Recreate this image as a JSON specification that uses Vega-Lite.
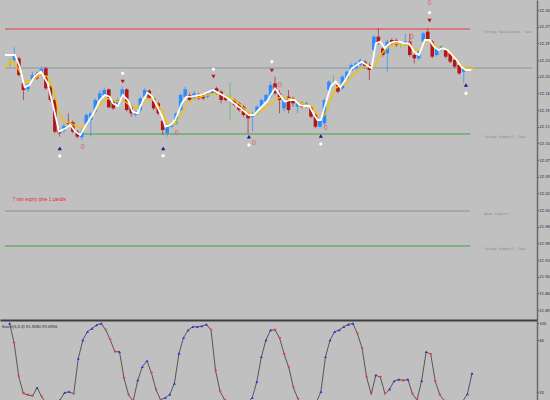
{
  "$schema": "https://vega.github.io/schema/vega-lite/v6.json",
  "background": "#c0c0c0",
  "padding": 0,
  "spacing": 0,
  "config": {"view": {"stroke": null}},
  "datasets": {
    "candles": [
      {"i":0,"o":22.2215,"c":22.2215,"h":22.2275,"l":22.2150},
      {"i":1,"o":22.2250,"c":22.2325,"h":22.2450,"l":22.2225},
      {"i":2,"o":22.2275,"c":22.2025,"h":22.2300,"l":22.2000},
      {"i":3,"o":22.1900,"c":22.1800,"h":22.1925,"l":22.1650},
      {"i":4,"o":22.1810,"c":22.1860,"h":22.1900,"l":22.1775},
      {"i":5,"o":22.1950,"c":22.2025,"h":22.2075,"l":22.1925},
      {"i":6,"o":22.2040,"c":22.1975,"h":22.2075,"l":22.1950},
      {"i":7,"o":22.2040,"c":22.2115,"h":22.2150,"l":22.2010},
      {"i":8,"o":22.2125,"c":22.1825,"h":22.2150,"l":22.1800},
      {"i":9,"o":22.1850,"c":22.1650,"h":22.1875,"l":22.1625},
      {"i":10,"o":22.1650,"c":22.1175,"h":22.1675,"l":22.1150},
      {"i":11,"o":22.1200,"c":22.1150,"h":22.1225,"l":22.1100},
      {"i":12,"o":22.1190,"c":22.1260,"h":22.1300,"l":22.1150},
      {"i":13,"o":22.1315,"c":22.1290,"h":22.1450,"l":22.1250},
      {"i":14,"o":22.1315,"c":22.1175,"h":22.1340,"l":22.1150},
      {"i":15,"o":22.1175,"c":22.1100,"h":22.1200,"l":22.1075},
      {"i":16,"o":22.1090,"c":22.1175,"h":22.1225,"l":22.1050},
      {"i":17,"o":22.1275,"c":22.1425,"h":22.1450,"l":22.1250},
      {"i":18,"o":22.1350,"c":22.1450,"h":22.1475,"l":22.1100},
      {"i":19,"o":22.1475,"c":22.1650,"h":22.1675,"l":22.1450},
      {"i":20,"o":22.1650,"c":22.1750,"h":22.1800,"l":22.1625},
      {"i":21,"o":22.1725,"c":22.1800,"h":22.1840,"l":22.1700},
      {"i":22,"o":22.1810,"c":22.1540,"h":22.1825,"l":22.1525},
      {"i":23,"o":22.1625,"c":22.1525,"h":22.1650,"l":22.1500},
      {"i":24,"o":22.1575,"c":22.1650,"h":22.1675,"l":22.1550},
      {"i":25,"o":22.1700,"c":22.1810,"h":22.1850,"l":22.1675},
      {"i":26,"o":22.1810,"c":22.1500,"h":22.1825,"l":22.1475},
      {"i":27,"o":22.1550,"c":22.1450,"h":22.1575,"l":22.1400},
      {"i":28,"o":22.1425,"c":22.1475,"h":22.1500,"l":22.1400},
      {"i":29,"o":22.1500,"c":22.1675,"h":22.1700,"l":22.1475},
      {"i":30,"o":22.1700,"c":22.1800,"h":22.1825,"l":22.1675},
      {"i":31,"o":22.1790,"c":22.1675,"h":22.1810,"l":22.1650},
      {"i":32,"o":22.1675,"c":22.1525,"h":22.1700,"l":22.1500},
      {"i":33,"o":22.1600,"c":22.1450,"h":22.1625,"l":22.1425},
      {"i":34,"o":22.1340,"c":22.1200,"h":22.1375,"l":22.1125},
      {"i":35,"o":22.1150,"c":22.1250,"h":22.1290,"l":22.1100},
      {"i":36,"o":22.1250,"c":22.1300,"h":22.1325,"l":22.1225},
      {"i":37,"o":22.1300,"c":22.1450,"h":22.1475,"l":22.1275},
      {"i":38,"o":22.1500,"c":22.1725,"h":22.1750,"l":22.1475},
      {"i":39,"o":22.1700,"c":22.1810,"h":22.1850,"l":22.1675},
      {"i":40,"o":22.1725,"c":22.1650,"h":22.1760,"l":22.1625},
      {"i":41,"o":22.1675,"c":22.1750,"h":22.1790,"l":22.1650},
      {"i":42,"o":22.1725,"c":22.1675,"h":22.1760,"l":22.1650},
      {"i":43,"o":22.1725,"c":22.1675,"h":22.1750,"l":22.1650},
      {"i":44,"o":22.1700,"c":22.1750,"h":22.1775,"l":22.1675},
      {"i":45,"o":22.1750,"c":22.1800,"h":22.1825,"l":22.1725},
      {"i":46,"o":22.1825,"c":22.1750,"h":22.1850,"l":22.1725},
      {"i":47,"o":22.1775,"c":22.1650,"h":22.1800,"l":22.1600},
      {"i":48,"o":22.1700,"c":22.1650,"h":22.1725,"l":22.1625},
      {"i":49,"o":22.1650,"c":22.1650,"h":22.1910,"l":22.1350},
      {"i":50,"o":22.1650,"c":22.1575,"h":22.1675,"l":22.1550},
      {"i":51,"o":22.1600,"c":22.1500,"h":22.1625,"l":22.1475},
      {"i":52,"o":22.1550,"c":22.1425,"h":22.1575,"l":22.1400},
      {"i":53,"o":22.1450,"c":22.1375,"h":22.1475,"l":22.1150},
      {"i":54,"o":22.1400,"c":22.1450,"h":22.1475,"l":22.1175},
      {"i":55,"o":22.1450,"c":22.1550,"h":22.1575,"l":22.1425},
      {"i":56,"o":22.1550,"c":22.1650,"h":22.1675,"l":22.1525},
      {"i":57,"o":22.1625,"c":22.1725,"h":22.1750,"l":22.1600},
      {"i":58,"o":22.1700,"c":22.1875,"h":22.1925,"l":22.1675},
      {"i":59,"o":22.1900,"c":22.1750,"h":22.2000,"l":22.1725},
      {"i":60,"o":22.1750,"c":22.1650,"h":22.1800,"l":22.1450},
      {"i":61,"o":22.1525,"c":22.1650,"h":22.1675,"l":22.1475},
      {"i":62,"o":22.1700,"c":22.1500,"h":22.1800,"l":22.1450},
      {"i":63,"o":22.1675,"c":22.1600,"h":22.1700,"l":22.1550},
      {"i":64,"o":22.1550,"c":22.1625,"h":22.1650,"l":22.1450},
      {"i":65,"o":22.1600,"c":22.1550,"h":22.1625,"l":22.1525},
      {"i":66,"o":22.1550,"c":22.1600,"h":22.1625,"l":22.1525},
      {"i":67,"o":22.1550,"c":22.1400,"h":22.1575,"l":22.1375},
      {"i":68,"o":22.1425,"c":22.1250,"h":22.1450,"l":22.1225},
      {"i":69,"o":22.1250,"c":22.1350,"h":22.1375,"l":22.1225},
      {"i":70,"o":22.1300,"c":22.1650,"h":22.1675,"l":22.1275},
      {"i":71,"o":22.1800,"c":22.1925,"h":22.1950,"l":22.1775},
      {"i":72,"o":22.1900,"c":22.1900,"h":22.2025,"l":22.1875},
      {"i":73,"o":22.1875,"c":22.1775,"h":22.1900,"l":22.1750},
      {"i":74,"o":22.1825,"c":22.2000,"h":22.2025,"l":22.1800},
      {"i":75,"o":22.1975,"c":22.2075,"h":22.2100,"l":22.1950},
      {"i":76,"o":22.2090,"c":22.2175,"h":22.2200,"l":22.2075},
      {"i":77,"o":22.2125,"c":22.2200,"h":22.2225,"l":22.2100},
      {"i":78,"o":22.2175,"c":22.2250,"h":22.2275,"l":22.2150},
      {"i":79,"o":22.2225,"c":22.2150,"h":22.2250,"l":22.2125},
      {"i":80,"o":22.2175,"c":22.2100,"h":22.2200,"l":22.1950},
      {"i":81,"o":22.2400,"c":22.2600,"h":22.2625,"l":22.2375},
      {"i":82,"o":22.2600,"c":22.2500,"h":22.2725,"l":22.2475},
      {"i":83,"o":22.2425,"c":22.2325,"h":22.2450,"l":22.2300},
      {"i":84,"o":22.2350,"c":22.2525,"h":22.2550,"l":22.2075},
      {"i":85,"o":22.2550,"c":22.2500,"h":22.2575,"l":22.2475},
      {"i":86,"o":22.2550,"c":22.2475,"h":22.2575,"l":22.2450},
      {"i":87,"o":22.2465,"c":22.2465,"h":22.2500,"l":22.2425},
      {"i":88,"o":22.2475,"c":22.2525,"h":22.2650,"l":22.2450},
      {"i":89,"o":22.2525,"c":22.2325,"h":22.2650,"l":22.2300},
      {"i":90,"o":22.2325,"c":22.2275,"h":22.2350,"l":22.2200},
      {"i":91,"o":22.2275,"c":22.2375,"h":22.2400,"l":22.2250},
      {"i":92,"o":22.2525,"c":22.2650,"h":22.2675,"l":22.2500},
      {"i":93,"o":22.2675,"c":22.2550,"h":22.2725,"l":22.2525},
      {"i":94,"o":22.2525,"c":22.2300,"h":22.2550,"l":22.2275},
      {"i":95,"o":22.2325,"c":22.2425,"h":22.2450,"l":22.2300},
      {"i":96,"o":22.2400,"c":22.2450,"h":22.2475,"l":22.2375},
      {"i":97,"o":22.2400,"c":22.2300,"h":22.2425,"l":22.2275},
      {"i":98,"o":22.2350,"c":22.2225,"h":22.2375,"l":22.2200},
      {"i":99,"o":22.2250,"c":22.2150,"h":22.2275,"l":22.2125},
      {"i":100,"o":22.2175,"c":22.2050,"h":22.2200,"l":22.2025},
      {"i":101,"o":22.2075,"c":22.2125,"h":22.2150,"l":22.1900}
    ],
    "white": [
      {"i":-1.09,"v":22.2325},{"i":1.09,"v":22.2325},{"i":2.18,"v":22.2150},{"i":3.28,"v":22.1840},
      {"i":4.37,"v":22.1875},{"i":5.46,"v":22.2000},{"i":6.92,"v":22.2075},{"i":8.38,"v":22.1900},
      {"i":9.83,"v":22.1500},{"i":10.92,"v":22.1175},{"i":12.38,"v":22.1225},{"i":13.47,"v":22.1275},
      {"i":14.57,"v":22.1175},{"i":15.66,"v":22.1125},{"i":16.75,"v":22.1250},{"i":18.57,"v":22.1450},
      {"i":20.03,"v":22.1650},{"i":21.12,"v":22.1725},{"i":22.21,"v":22.1700},{"i":22.94,"v":22.1600},
      {"i":24.03,"v":22.1560},{"i":25.13,"v":22.1725},{"i":26.22,"v":22.1650},{"i":27.31,"v":22.1475},
      {"i":28.40,"v":22.1450},{"i":29.50,"v":22.1625},{"i":30.59,"v":22.1760},{"i":31.68,"v":22.1700},
      {"i":32.77,"v":22.1550},{"i":33.87,"v":22.1400},{"i":34.60,"v":22.1250},{"i":35.69,"v":22.1275},
      {"i":36.78,"v":22.1350},{"i":38.24,"v":22.1600},{"i":39.33,"v":22.1700},{"i":40.42,"v":22.1700},
      {"i":42.61,"v":22.1725},{"i":45.16,"v":22.1800},{"i":46.61,"v":22.1750},{"i":48.43,"v":22.1675},
      {"i":49.89,"v":22.1600},{"i":51.35,"v":22.1525},{"i":53.17,"v":22.1425},{"i":54.26,"v":22.1425},
      {"i":55.35,"v":22.1500},{"i":57.17,"v":22.1625},{"i":58.99,"v":22.1825},{"i":60.09,"v":22.1725},
      {"i":61.18,"v":22.1625},{"i":62.27,"v":22.1650},{"i":63.36,"v":22.1650},{"i":64.46,"v":22.1575},
      {"i":65.55,"v":22.1560},{"i":66.64,"v":22.1560},{"i":67.73,"v":22.1425},{"i":68.46,"v":22.1350},
      {"i":69.19,"v":22.1350},{"i":70.28,"v":22.1600},{"i":71.38,"v":22.1850},{"i":72.47,"v":22.1925},
      {"i":73.56,"v":22.1840},{"i":74.65,"v":22.1950},{"i":76.11,"v":22.2125},{"i":77.20,"v":22.2175},
      {"i":78.30,"v":22.2225},{"i":79.39,"v":22.2175},{"i":80.48,"v":22.2125},{"i":81.43,"v":22.2500},
      {"i":82.45,"v":22.2525},{"i":83.39,"v":22.2425},{"i":84.49,"v":22.2500},{"i":85.58,"v":22.2525},
      {"i":86.67,"v":22.2525},{"i":87.76,"v":22.2500},{"i":88.86,"v":22.2500},{"i":89.95,"v":22.2375},
      {"i":91.04,"v":22.2325},{"i":92.35,"v":22.2550},{"i":93.37,"v":22.2550},{"i":94.39,"v":22.2450},
      {"i":95.41,"v":22.2400},{"i":96.36,"v":22.2425},{"i":97.38,"v":22.2400},{"i":98.40,"v":22.2325},
      {"i":99.42,"v":22.2250},{"i":100.44,"v":22.2150},{"i":101.46,"v":22.2100},{"i":102.69,"v":22.2100}
    ],
    "yellow": [
      {"i":-1.09,"v":22.2125},{"i":0.36,"v":22.2250},{"i":1.82,"v":22.2125},{"i":3.28,"v":22.1925},
      {"i":4.73,"v":22.1950},{"i":6.92,"v":22.2025},{"i":8.38,"v":22.2000},{"i":9.83,"v":22.1775},
      {"i":10.92,"v":22.1450},{"i":12.02,"v":22.1325},{"i":13.47,"v":22.1300},{"i":14.93,"v":22.1250},
      {"i":16.02,"v":22.1225},{"i":17.12,"v":22.1300},{"i":18.57,"v":22.1450},{"i":20.03,"v":22.1575},
      {"i":21.49,"v":22.1675},{"i":22.94,"v":22.1650},{"i":24.03,"v":22.1625},{"i":25.13,"v":22.1650},
      {"i":26.58,"v":22.1575},{"i":28.04,"v":22.1525},{"i":29.50,"v":22.1600},{"i":30.95,"v":22.1675},
      {"i":32.41,"v":22.1625},{"i":33.87,"v":22.1475},{"i":34.96,"v":22.1300},{"i":36.05,"v":22.1275},
      {"i":37.14,"v":22.1325},{"i":38.60,"v":22.1500},{"i":39.69,"v":22.1625},{"i":41.15,"v":22.1675},
      {"i":44.06,"v":22.1725},{"i":46.25,"v":22.1750},{"i":48.43,"v":22.1700},{"i":49.89,"v":22.1650},
      {"i":51.35,"v":22.1575},{"i":52.80,"v":22.1475},{"i":54.26,"v":22.1425},{"i":55.72,"v":22.1475},
      {"i":57.17,"v":22.1550},{"i":58.99,"v":22.1650},{"i":60.45,"v":22.1700},{"i":61.91,"v":22.1675},
      {"i":63.36,"v":22.1660},{"i":64.82,"v":22.1600},{"i":66.28,"v":22.1575},{"i":67.37,"v":22.1550},
      {"i":68.46,"v":22.1425},{"i":69.19,"v":22.1375},{"i":70.28,"v":22.1450},{"i":71.38,"v":22.1650},
      {"i":72.47,"v":22.1825},{"i":73.56,"v":22.1875},{"i":74.65,"v":22.1875},{"i":76.11,"v":22.2000},
      {"i":77.57,"v":22.2100},{"i":78.66,"v":22.2150},{"i":80.12,"v":22.2150},{"i":81.21,"v":22.2150},
      {"i":82.30,"v":22.2300},{"i":83.39,"v":22.2400},{"i":84.49,"v":22.2450},{"i":85.94,"v":22.2500},
      {"i":87.40,"v":22.2475},{"i":88.86,"v":22.2475},{"i":90.31,"v":22.2400},{"i":91.41,"v":22.2400},
      {"i":92.50,"v":22.2525},{"i":93.59,"v":22.2525},{"i":94.68,"v":22.2475},{"i":95.78,"v":22.2425},
      {"i":96.87,"v":22.2425},{"i":98.33,"v":22.2350},{"i":99.78,"v":22.2225},{"i":100.87,"v":22.2150},
      {"i":101.97,"v":22.2125},{"i":103.42,"v":22.2125}
    ],
    "levels": [
      {"name":"Strong Resistance, Test","kind":"res","price":22.2715,"from":-1.1,"to":102.4},
      {"name":"","kind":"cur","price":22.213,"from":-1.1,"to":116.2},
      {"name":"Tested Support, Test","kind":"sup","price":22.114,"from":15.7,"to":102.4},
      {"name":"Weak Support","kind":"weak","price":21.9985,"from":-1.1,"to":102.4},
      {"name":"Tested Support, Test","kind":"sup","price":21.946,"from":-1.1,"to":102.4}
    ],
    "signals": [
      {"i":11.1,"price":22.0925,"type":"buy"},{"i":34.1,"price":22.0925,"type":"buy"},
      {"i":53.2,"price":22.1100,"type":"buy"},{"i":69.2,"price":22.1110,"type":"buy"},
      {"i":101.5,"price":22.1875,"type":"buy"},
      {"i":11.1,"price":22.0810,"type":"dot"},{"i":34.1,"price":22.0815,"type":"dot"},
      {"i":53.2,"price":22.0975,"type":"dot"},{"i":69.2,"price":22.0990,"type":"dot"},
      {"i":101.5,"price":22.1750,"type":"dot"},{"i":25.1,"price":22.2050,"type":"dot"},
      {"i":45.3,"price":22.2110,"type":"dot"},{"i":58.3,"price":22.2225,"type":"dot"},
      {"i":93.4,"price":22.2960,"type":"dot"},
      {"i":25.1,"price":22.1925,"type":"sell"},{"i":45.3,"price":22.2000,"type":"sell"},
      {"i":58.3,"price":22.2090,"type":"sell"},{"i":93.4,"price":22.2840,"type":"sell"},
      {"i":16.2,"price":22.0950,"type":"zero"},{"i":37.1,"price":22.1160,"type":"zero"},
      {"i":54.3,"price":22.1010,"type":"zero"},{"i":70.3,"price":22.1225,"type":"zero"},
      {"i":89.4,"price":22.2600,"type":"zero"},{"i":60.1,"price":22.1875,"type":"zero"},
      {"i":93.4,"price":22.3110,"type":"zero"}
    ],
    "osc": [
      {"i":1,"v":99.6,"d":"u"},{"i":2,"v":76.5,"d":"d"},{"i":3,"v":38.1,"d":"d"},{"i":4,"v":18.8,"d":"d"},
      {"i":5,"v":16.9,"d":"d"},{"i":6,"v":15.8,"d":"d"},{"i":7,"v":25.4,"d":"u"},{"i":8,"v":15.0,"d":"d"},
      {"i":9,"v":7.3,"d":"d"},{"i":10,"v":4.6,"d":"d"},{"i":11,"v":5.4,"d":"u"},{"i":12,"v":11.2,"d":"u"},
      {"i":13,"v":19.6,"d":"u"},{"i":14,"v":20.8,"d":"u"},{"i":15,"v":18.1,"d":"d"},{"i":16,"v":59.2,"d":"u"},
      {"i":17,"v":80.4,"d":"u"},{"i":18,"v":90.0,"d":"u"},{"i":19,"v":93.8,"d":"u"},{"i":20,"v":97.7,"d":"u"},
      {"i":21,"v":99.6,"d":"u"},{"i":22,"v":91.9,"d":"d"},{"i":23,"v":80.4,"d":"d"},{"i":24,"v":66.9,"d":"d"},
      {"i":25,"v":66.9,"d":"u"},{"i":26,"v":36.1,"d":"d"},{"i":27,"v":16.9,"d":"d"},{"i":28,"v":10.0,"d":"d"},
      {"i":29,"v":34.2,"d":"u"},{"i":30,"v":49.6,"d":"u"},{"i":31,"v":56.5,"d":"u"},{"i":32,"v":41.9,"d":"d"},
      {"i":33,"v":22.7,"d":"d"},{"i":34,"v":11.2,"d":"d"},{"i":35,"v":13.8,"d":"u"},{"i":36,"v":17.7,"d":"u"},
      {"i":37,"v":30.4,"d":"u"},{"i":38,"v":65.0,"d":"u"},{"i":39,"v":83.1,"d":"u"},{"i":40,"v":91.9,"d":"u"},
      {"i":41,"v":95.7,"d":"u"},{"i":42,"v":95.7,"d":"u"},{"i":43,"v":96.5,"d":"u"},{"i":44,"v":98.4,"d":"u"},
      {"i":45,"v":91.9,"d":"d"},{"i":46,"v":44.6,"d":"d"},{"i":47,"v":20.8,"d":"d"},{"i":48,"v":11.2,"d":"d"},
      {"i":49,"v":6.2,"d":"d"},{"i":50,"v":3.5,"d":"d"},{"i":51,"v":3.5,"d":"d"},{"i":52,"v":5.4,"d":"u"},
      {"i":53,"v":8.5,"d":"u"},{"i":54,"v":13.8,"d":"u"},{"i":55,"v":32.3,"d":"u"},{"i":56,"v":61.1,"d":"u"},
      {"i":57,"v":80.4,"d":"u"},{"i":58,"v":91.9,"d":"u"},{"i":59,"v":91.9,"d":"d"},{"i":60,"v":82.3,"d":"d"},
      {"i":61,"v":63.8,"d":"d"},{"i":62,"v":48.4,"d":"d"},{"i":63,"v":25.4,"d":"d"},{"i":64,"v":12.3,"d":"d"},
      {"i":65,"v":6.2,"d":"d"},{"i":66,"v":3.5,"d":"d"},{"i":67,"v":3.5,"d":"u"},{"i":68,"v":8.5,"d":"u"},
      {"i":69,"v":20.8,"d":"u"},{"i":70,"v":61.1,"d":"u"},{"i":71,"v":80.4,"d":"u"},{"i":72,"v":90.0,"d":"u"},
      {"i":73,"v":91.9,"d":"u"},{"i":74,"v":95.7,"d":"u"},{"i":75,"v":98.4,"d":"u"},{"i":76,"v":99.6,"d":"u"},
      {"i":77,"v":87.3,"d":"d"},{"i":78,"v":70.7,"d":"d"},{"i":79,"v":36.9,"d":"d"},{"i":80,"v":18.1,"d":"d"},
      {"i":81,"v":40.0,"d":"u"},{"i":82,"v":37.3,"d":"d"},{"i":83,"v":18.1,"d":"d"},{"i":84,"v":23.8,"d":"u"},
      {"i":85,"v":33.1,"d":"u"},{"i":86,"v":35.0,"d":"u"},{"i":87,"v":33.5,"d":"d"},{"i":88,"v":35.0,"d":"u"},
      {"i":89,"v":18.1,"d":"d"},{"i":90,"v":11.2,"d":"d"},{"i":91,"v":33.5,"d":"u"},{"i":92,"v":66.9,"d":"u"},
      {"i":93,"v":63.8,"d":"d"},{"i":94,"v":32.3,"d":"d"},{"i":95,"v":16.9,"d":"d"},{"i":96,"v":10.0,"d":"d"},
      {"i":97,"v":5.4,"d":"d"},{"i":98,"v":3.5,"d":"d"},{"i":99,"v":6.2,"d":"u"},{"i":100,"v":10.0,"d":"u"},
      {"i":101,"v":18.1,"d":"u"},{"i":102,"v":41.9,"d":"u"}
    ]
  },
  "vconcat": [
    {
      "width": 537,
      "height": 320,
      "resolve": {"axis": {"y": "independent"}},
      "encoding": {
        "x": {"field": "i", "type": "quantitative", "axis": null, "scale": {"domain": [-1.1, 116.2], "nice": false, "zero": false}}
      },
      "layer": [
        {
          "data": {"name": "levels"},
          "mark": {"type": "rule", "strokeWidth": 1.6, "clip": true},
          "encoding": {
            "x": {"field": "from", "type": "quantitative"},
            "x2": {"field": "to"},
            "y": {"field": "price", "type": "quantitative",
              "scale": {"domain": [21.835, 22.315], "nice": false, "zero": false},
              "axis": {"orient": "right", "title": null, "grid": false,
                "values": [22.3,22.275,22.25,22.225,22.2,22.175,22.15,22.125,22.1,22.075,22.05,22.025,22.0,21.975,21.95,21.925,21.9,21.875,21.85],
                "format": ".2f", "labelFontSize": 4, "labelColor": "#2a2a2a", "labelFont": "Liberation Sans Narrow, DejaVu Sans Condensed, sans-serif",
                "labelOverlap": false, "labelFlush": false, "labelBound": false,
                "tickSize": 1.5, "tickColor": "#555555", "labelPadding": 0.5,
                "domainColor": "#6a6a6a", "domainWidth": 1.5}},
            "color": {"field": "kind", "type": "nominal", "legend": null,
              "scale": {"domain": ["res", "cur", "sup", "weak"], "range": ["#e06464", "#9aa3ab", "#6cab6c", "#98a0a6"]}}
          }
        },
        {
          "data": {"name": "levels"},
          "mark": {"type": "text", "align": "left", "baseline": "middle", "dx": 14, "dy": 3, "fontSize": 3.5, "font": "DejaVu Sans Mono", "color": "#8c8c8c"},
          "encoding": {
            "x": {"field": "to", "type": "quantitative"},
            "y": {"field": "price", "type": "quantitative", "axis": null},
            "text": {"field": "name"}
          }
        },
        {
          "data": {"values": [{}]},
          "mark": {"type": "rule", "color": "#6a6a6a", "strokeWidth": 1.5},
          "encoding": {"x": {"datum": -1.05}}
        },
        {
          "data": {"name": "candles"},
          "mark": {"type": "rule", "strokeWidth": 1, "opacity": 0.65, "clip": true},
          "encoding": {
            "y": {"field": "l", "type": "quantitative", "axis": null},
            "y2": {"field": "h"},
            "color": {"condition": [{"test": "datum.c > datum.o", "value": "#2b8cff"}, {"test": "datum.c < datum.o", "value": "#b3161a"}], "value": "#3cc03c"}
          }
        },
        {
          "data": {"name": "candles"},
          "mark": {"type": "bar", "size": 3.6, "clip": true},
          "encoding": {
            "y": {"field": "o", "type": "quantitative", "axis": null},
            "y2": {"field": "c"},
            "color": {"condition": [{"test": "datum.c > datum.o", "value": "#2b8cff"}, {"test": "datum.c < datum.o", "value": "#b3161a"}], "value": "#3cc03c"}
          }
        },
        {
          "data": {"name": "yellow"},
          "mark": {"type": "line", "color": "#f2c200", "strokeWidth": 1.4, "clip": true},
          "encoding": {"y": {"field": "v", "type": "quantitative", "axis": null}}
        },
        {
          "data": {"name": "white"},
          "mark": {"type": "line", "color": "#ffffff", "strokeWidth": 1.8, "clip": true},
          "encoding": {"y": {"field": "v", "type": "quantitative", "axis": null}}
        },
        {
          "data": {"name": "signals"},
          "transform": [{"filter": "datum.type == 'buy'"}],
          "mark": {"type": "point", "shape": "triangle-up", "filled": true, "size": 18, "color": "#1a1a9a", "opacity": 1, "clip": true},
          "encoding": {"y": {"field": "price", "type": "quantitative", "axis": null}}
        },
        {
          "data": {"name": "signals"},
          "transform": [{"filter": "datum.type == 'sell'"}],
          "mark": {"type": "point", "shape": "triangle-down", "filled": true, "size": 18, "color": "#b81a1a", "opacity": 1, "clip": true},
          "encoding": {"y": {"field": "price", "type": "quantitative", "axis": null}}
        },
        {
          "data": {"name": "signals"},
          "transform": [{"filter": "datum.type == 'dot'"}],
          "mark": {"type": "point", "shape": "diamond", "filled": true, "size": 16, "color": "#ffffff", "opacity": 1, "clip": true},
          "encoding": {"y": {"field": "price", "type": "quantitative", "axis": null}}
        },
        {
          "data": {"name": "signals"},
          "transform": [{"filter": "datum.type == 'zero'"}],
          "mark": {"type": "text", "text": "0", "fontSize": 7, "color": "#e05a5a", "baseline": "middle", "clip": true},
          "encoding": {"y": {"field": "price", "type": "quantitative", "axis": null}}
        },
        {
          "data": {"values": [{"i": 0.6, "price": 22.015, "note": "7 min expiry time 1 candle"}]},
          "mark": {"type": "text", "align": "left", "baseline": "middle", "fontSize": 4.6, "font": "Liberation Sans", "color": "#f02020"},
          "encoding": {"y": {"field": "price", "type": "quantitative", "axis": null}, "text": {"field": "note"}}
        },
        {
          "data": {"values": [{"price": 22.213, "label": "22.213"}]},
          "mark": {"type": "tick", "orient": "horizontal", "thickness": 6, "size": 13, "color": "#000000", "opacity": 1},
          "encoding": {"x": {"datum": 118.6}, "y": {"field": "price", "type": "quantitative", "axis": null}}
        },
        {
          "data": {"values": [{"price": 22.213, "label": "22.213"}]},
          "mark": {"type": "text", "fontSize": 4, "font": "Liberation Sans Narrow, DejaVu Sans Condensed, sans-serif", "color": "#ffffff", "baseline": "middle"},
          "encoding": {"x": {"datum": 118.6}, "y": {"field": "price", "type": "quantitative", "axis": null}, "text": {"field": "label"}}
        }
      ]
    },
    {
      "width": 537,
      "height": 80,
      "resolve": {"axis": {"y": "independent"}},
      "encoding": {
        "x": {"field": "i", "type": "quantitative", "scale": {"domain": [-1.1, 116.2], "nice": false, "zero": false},
          "axis": {"orient": "top", "labels": false, "ticks": false, "grid": false, "title": null, "domainColor": "#3c3c3c", "domainWidth": 2}}
      },
      "layer": [
        {
          "data": {"values": [{"lvl": 80}, {"lvl": 20}]},
          "mark": {"type": "rule", "color": "#7c7cae", "strokeDash": [2, 2], "strokeWidth": 1},
          "encoding": {
            "x": {"datum": -1.1},
            "x2": {"datum": 116.2},
            "y": {"field": "lvl", "type": "quantitative",
              "scale": {"domain": [11.2, 103.5], "nice": false, "zero": false},
              "axis": {"orient": "right", "title": null, "grid": false, "values": [100, 80, 20], "format": "d",
                "labelFontSize": 4, "labelColor": "#2a2a2a", "labelFont": "Liberation Sans Narrow, DejaVu Sans Condensed, sans-serif",
                "labelOverlap": false, "labelFlush": false, "labelBound": false,
                "tickSize": 1.5, "tickColor": "#555555", "labelPadding": 0.5,
                "domainColor": "#6a6a6a", "domainWidth": 1.5}}
          }
        },
        {
          "data": {"values": [{}]},
          "mark": {"type": "rule", "color": "#6a6a6a", "strokeWidth": 1.5},
          "encoding": {"x": {"datum": -1.05}}
        },
        {
          "data": {"name": "osc"},
          "mark": {"type": "line", "color": "#4a4a4a", "strokeWidth": 0.9, "clip": true},
          "encoding": {"y": {"field": "v", "type": "quantitative", "axis": null}}
        },
        {
          "data": {"name": "osc"},
          "transform": [{"filter": "datum.d == 'u'"}],
          "mark": {"type": "point", "shape": "triangle-up", "filled": true, "size": 9, "color": "#3434d8", "opacity": 1, "clip": true},
          "encoding": {"y": {"field": "v", "type": "quantitative", "axis": null}}
        },
        {
          "data": {"name": "osc"},
          "transform": [{"filter": "datum.d == 'd'"}],
          "mark": {"type": "point", "shape": "triangle-down", "filled": true, "size": 9, "color": "#e04040", "opacity": 1, "clip": true},
          "encoding": {"y": {"field": "v", "type": "quantitative", "axis": null}}
        },
        {
          "data": {"values": [{"i": -0.7, "v": 95.0, "label": "Stoch(5,3,3) 91.9080 93.6956"}]},
          "mark": {"type": "text", "align": "left", "baseline": "middle", "fontSize": 4.2, "color": "#2a2a2a"},
          "encoding": {"y": {"field": "v", "type": "quantitative", "axis": null}, "text": {"field": "label"}}
        }
      ]
    }
  ]
}
